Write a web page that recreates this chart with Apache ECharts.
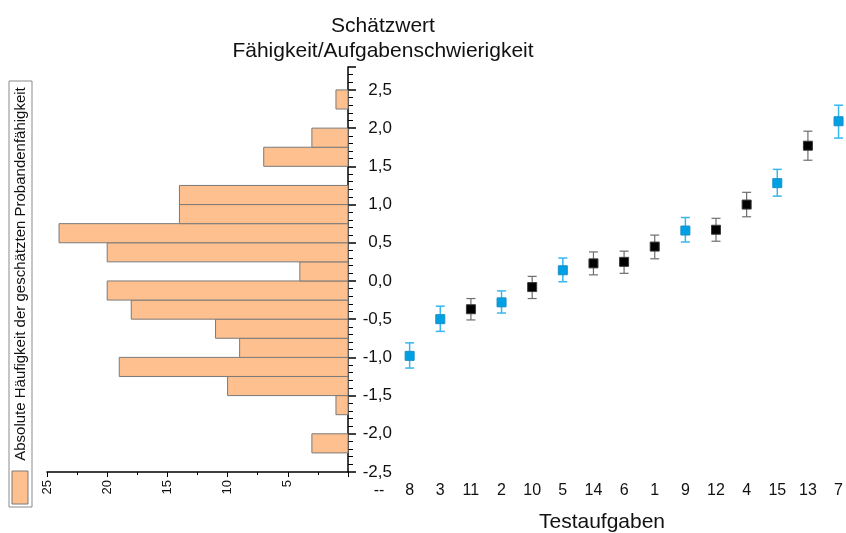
<!DOCTYPE html>
<html>
<head>
<meta charset="utf-8">
<script src="https://cdn.jsdelivr.net/npm/echarts@6/dist/echarts.min.js"></script>
<style>
  html, body { margin: 0; padding: 0; background: #fff; }
  #main { width: 846px; height: 533px; }
</style>
</head>
<body>
<div id="main"></div>
<script>
// Histogramm: untere Klassengrenzen (Breite 0,25) und Häufigkeiten
const binWidth = 0.25
const binStarts = [-2.5, -2.25, -2.0, -1.75, -1.5, -1.25, -1.0, -0.75, -0.5, -0.25,
  0, 0.25, 0.5, 0.75, 1.0, 1.25, 1.5, 1.75, 2.0, 2.25]
const binCounts = [0, 3, 0, 1, 10, 19, 9, 11, 18, 20,
  4, 20, 24, 14, 14, 0, 7, 3, 0, 1]

// Testaufgaben (sortiert nach Schwierigkeit)
const taskLabels = ['--', '8', '3', '11', '2', '10', '5', '14', '6', '1', '9', '12', '4', '15', '13', '7']
const estimates = [null, -0.98, -0.50, -0.37, -0.28, -0.08, 0.14, 0.23, 0.25, 0.45, 0.66, 0.67, 1.00, 1.28, 1.77, 2.09]
const errLow = [null, -1.14, -0.66, -0.51, -0.42, -0.23, -0.01, 0.08, 0.10, 0.29, 0.51, 0.52, 0.84, 1.11, 1.58, 1.87]
const errHigh = [null, -0.81, -0.33, -0.23, -0.13, 0.06, 0.30, 0.38, 0.39, 0.60, 0.83, 0.82, 1.16, 1.46, 1.96, 2.30]
const groups = [null, 'b', 'b', 'k', 'b', 'k', 'b', 'k', 'k', 'k', 'b', 'k', 'k', 'b', 'k', 'b']

const yMin = -2.5
const yMax = 2.8
const FONT = 'Liberation Sans, Arial, sans-serif'

const BAR_FILL = '#FFC08F'
const BLUE = '#00A0E4'
const BLUE_ERR = '#38B6EE'
const BLACK = '#000000'
const BLACK_ERR = '#6E6E6E'

// Punkte einer Farbgruppe auswählen
function pick(g, fn) {
  const out = []
  groups.forEach(function (v, i) {
    if (v === g) out.push(fn(i))
  })
  return out
}

const histData = binStarts.map(function (lo, i) {
  return [binCounts[i], lo, lo + binWidth]
})

function errSeries(g, color, width) {
  return {
    type: 'custom',
    xAxisIndex: 1,
    yAxisIndex: 1,
    silent: true,
    z: 3,
    data: pick(g, function (i) { return [i, errLow[i], errHigh[i]] }),
    renderItem: function (params, api) {
      const lo = api.coord([api.value(0), api.value(1)])
      const hi = api.coord([api.value(0), api.value(2)])
      const cap = 4.5
      const st = { stroke: color, lineWidth: width }
      return {
        type: 'group',
        children: [
          { type: 'line', shape: { x1: lo[0], y1: lo[1], x2: hi[0], y2: hi[1] }, style: st },
          { type: 'line', shape: { x1: lo[0] - cap, y1: lo[1], x2: lo[0] + cap, y2: lo[1] }, style: st },
          { type: 'line', shape: { x1: hi[0] - cap, y1: hi[1], x2: hi[0] + cap, y2: hi[1] }, style: st }
        ]
      }
    }
  }
}

function pointSeries(g, color, border) {
  return {
    type: 'scatter',
    xAxisIndex: 1,
    yAxisIndex: 1,
    symbol: 'rect',
    symbolSize: 9,
    z: 4,
    itemStyle: { color: color, borderColor: border, borderWidth: 1, opacity: 1 },
    data: pick(g, function (i) { return [i, estimates[i]] })
  }
}

const chart = echarts.init(document.getElementById('main'), null, { renderer: 'canvas' })

const option = {
  backgroundColor: '#ffffff',
  animation: false,
  textStyle: { fontFamily: FONT },
  grid: [
    { left: 47, right: 498, top: 67, bottom: 61 },
    { left: 379, right: 5, top: 67, bottom: 61 }
  ],
  xAxis: [{
    gridIndex: 0,
    type: 'value',
    inverse: true,
    min: 0,
    max: 25,
    interval: 5,
    position: 'bottom',
    axisLine: { show: true, onZero: false, lineStyle: { color: '#000', width: 1.5 } },
    axisTick: { show: true, inside: false, length: 5, lineStyle: { color: '#000', width: 1 } },
    minorTick: { show: true, splitNumber: 2, length: 3, lineStyle: { color: '#000', width: 1 } },
    splitLine: { show: false },
    axisLabel: {
      rotate: 90,
      margin: 8,
      fontSize: 13,
      color: '#111',
      fontFamily: FONT,
      showMinLabel: false
    }
  }, {
    gridIndex: 1,
    type: 'value',
    min: 0,
    max: 15,
    interval: 1,
    axisLine: { show: false },
    axisTick: { show: false },
    splitLine: { show: false },
    axisLabel: {
      margin: 11,
      fontSize: 16,
      color: '#111',
      fontFamily: FONT,
      formatter: function (v) { return taskLabels[v] }
    }
  }],
  yAxis: [{
    gridIndex: 0,
    type: 'value',
    position: 'right',
    min: yMin,
    max: yMax,
    interval: 0.5,
    axisLine: { show: true, onZero: false, lineStyle: { color: '#000', width: 1.5 } },
    axisTick: { show: true, inside: false, length: 8, lineStyle: { color: '#000', width: 1.5 } },
    minorTick: { show: true, splitNumber: 5, length: 5, lineStyle: { color: '#000', width: 1 } },
    splitLine: { show: false },
    axisLabel: {
      align: 'right',
      margin: 44,
      fontSize: 17,
      color: '#111',
      fontFamily: FONT,
      showMaxLabel: false,
      formatter: function (v) { return v.toFixed(1).replace('.', ',') }
    }
  }, {
    gridIndex: 1,
    type: 'value',
    min: yMin,
    max: yMax,
    show: false
  }],
  series: [{
    type: 'custom',
    name: 'Absolute Häufigkeit der geschätzten Probandenfähigkeit',
    xAxisIndex: 0,
    yAxisIndex: 0,
    data: histData,
    renderItem: function (params, api) {
      const count = api.value(0)
      if (!count) return null
      const a = api.coord([0, api.value(2)])
      const b = api.coord([count, api.value(1)])
      return {
        type: 'rect',
        shape: {
          x: Math.min(a[0], b[0]),
          y: Math.min(a[1], b[1]),
          width: Math.abs(a[0] - b[0]),
          height: Math.abs(a[1] - b[1])
        },
        style: { fill: BAR_FILL, stroke: '#7A7A7A', lineWidth: 1 }
      }
    }
  },
  errSeries('b', BLUE_ERR, 1.5),
  errSeries('k', BLACK_ERR, 1.2),
  pointSeries('b', BLUE, '#1C8FC8'),
  pointSeries('k', BLACK, '#3A3A3A')
  ],
  graphic: [
    // Titel
    { type: 'text', x: 383, y: 26, style: { text: 'Schätzwert', font: '21px ' + FONT, fill: '#111', align: 'center', verticalAlign: 'middle' } },
    { type: 'text', x: 383, y: 51, style: { text: 'Fähigkeit/Aufgabenschwierigkeit', font: '21px ' + FONT, fill: '#111', align: 'center', verticalAlign: 'middle' } },
    // Achsentitel unten
    { type: 'text', x: 602, y: 522, style: { text: 'Testaufgaben', font: '21px ' + FONT, fill: '#111', align: 'center', verticalAlign: 'middle' } },
    // Legende links (senkrecht)
    { type: 'rect', shape: { x: 9, y: 81, width: 23, height: 426 }, style: { fill: 'none', stroke: '#8A8A8A', lineWidth: 1 } },
    { type: 'rect', shape: { x: 12, y: 471, width: 16, height: 33 }, style: { fill: BAR_FILL, stroke: '#7A7A7A', lineWidth: 1 } },
    { type: 'text', x: 21, y: 274, rotation: Math.PI / 2, style: { text: 'Absolute Häufigkeit der geschätzten Probandenfähigkeit', font: '15px ' + FONT, fill: '#111', align: 'center', verticalAlign: 'middle' } }
  ]
}

chart.setOption(option)
</script>
</body>
</html>
